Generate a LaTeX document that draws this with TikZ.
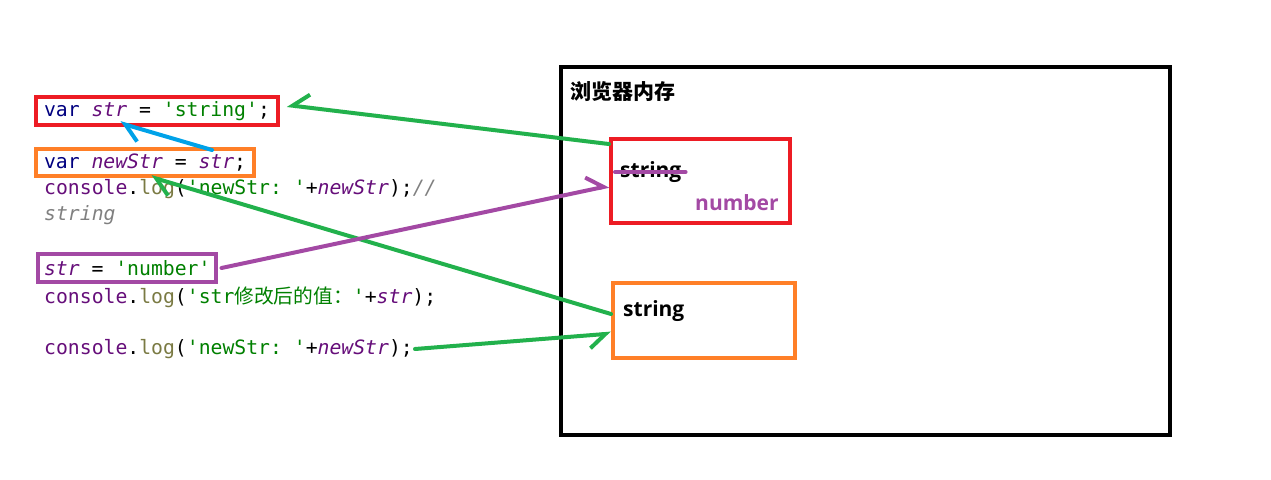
\documentclass[tikz,border=0pt]{standalone}
\usepackage{fontspec}
\setmainfont{Open Sans}
\setmonofont{DejaVu Sans Mono}
\newfontfamily\cjk{Noto Sans CJK SC}
\usetikzlibrary{positioning}
\usetikzlibrary{arrows.meta}

\definecolor{boxred}{HTML}{ED1C24}
\definecolor{boxorange}{HTML}{FF7F27}
\definecolor{boxpurple}{HTML}{A349A4}
\definecolor{linkgreen}{HTML}{22B14C}
\definecolor{linkblue}{HTML}{00A2E8}
\definecolor{kwnavy}{HTML}{000080}
\definecolor{idpurple}{HTML}{660E7A}
\definecolor{strgreen}{HTML}{008000}
\definecolor{logolive}{HTML}{7A7A43}
\definecolor{cmtgray}{HTML}{808080}

\newcommand\codesize{\ttfamily\fontsize{19.75}{23}\selectfont}
\newcommand\kwd[1]{\textcolor{kwnavy}{#1}}
\newcommand\ident[1]{\textcolor{idpurple}{\itshape #1}}
\newcommand\strlit[1]{\textcolor{strgreen}{#1}}
\newcommand\cmt[1]{\textcolor{cmtgray}{\itshape #1}}
\newcommand\consl{\textcolor{idpurple}{console}.\textcolor{logolive}{log}}

\tikzset{
  codebox/.style={draw, line width=4pt, inner xsep=8pt, inner ysep=0pt, anchor=north west, font=\codesize},
  codeline/.style={anchor=west, inner sep=0pt, font=\codesize},
  membox/.style={draw, line width=4pt, anchor=north west, inner sep=0pt},
  memtext/.style={anchor=west, inner sep=0pt, font=\bfseries\fontsize{21}{24}\selectfont},
  link/.style={line width=4pt, line cap=round},
  headL/.style={-{Straight Barb[harpoon, length=16pt, width=26pt]}},
  headR/.style={-{Straight Barb[harpoon, swap, length=16pt, width=26pt]}},
}

\begin{document}
\begin{tikzpicture}[x=1pt, y=-1pt]

\useasboundingbox (0,0) rectangle (1271,479);

%code on the left
\node[codebox, draw=boxred, minimum height=28pt] (varStr) at (34,95)
  {\kwd{var} \ident{str} = \strlit{'string'};};
\node[codebox, draw=boxorange, minimum height=27pt] (varNew) at (34,147)
  {\kwd{var} \ident{newStr} = \ident{str};};
\node[codeline] (logA) at (44,189) {\consl(\strlit{'newStr: '}+\ident{newStr});\cmt{//}};
\node[codeline] (logAcmt) at (44,215) {\cmt{string}};
\node[codebox, draw=boxpurple, inner xsep=6pt, minimum height=28pt] (varNum) at (36,252)
  {\ident{str} = \strlit{'number'}};
\node[codeline] (logB) at (44,297) {\consl(\strlit{'str{\cjk 修改后的值：}'}+\ident{str});};
\node[codeline] (logC) at (44,349) {\consl(\strlit{'newStr: '}+\ident{newStr});};

%browser memory
\node[membox, draw=black, minimum width=609pt, minimum height=368pt] (memory) at (559,65) {};
\node[anchor=west, inner sep=0pt, font=\cjk\bfseries\fontsize{21}{24}\selectfont] (memTitle) at (570,92) {浏览器内存};

\node[membox, draw=boxred, minimum width=179pt, minimum height=84pt] (memStr) at (609,137) {};
\node[memtext] (oldVal) at (620,172) {string};
\node[memtext, text=boxpurple] (newVal) at (695,203) {number};

\node[membox, draw=boxorange, minimum width=182pt, minimum height=75pt] (memNew) at (611,281) {};
\node[memtext] (copyVal) at (623,311) {string};

%arrow tips
\coordinate (tipStr) at (287,105);
\coordinate (tipNew) at (151,177);
\coordinate (blueFrom) at (212,150);
\coordinate (blueTo) at (120,123);

\draw[link, boxpurple] ([xshift=-5pt]oldVal.west) -- ([xshift=4pt]oldVal.east);

\draw[link, linkgreen, headR] (memStr.158) -- (tipStr);
\draw[link, linkgreen, headL] (memNew.176) -- (tipNew);
\draw[link, boxpurple, headL] ([xshift=3pt]varNum.east) -- (memStr.183);
\draw[link, linkgreen, headR] ([xshift=2pt]logC.east) -- (memNew.188);
\draw[link, linkblue, headL] (blueFrom) -- (blueTo);

\end{tikzpicture}
\end{document}
